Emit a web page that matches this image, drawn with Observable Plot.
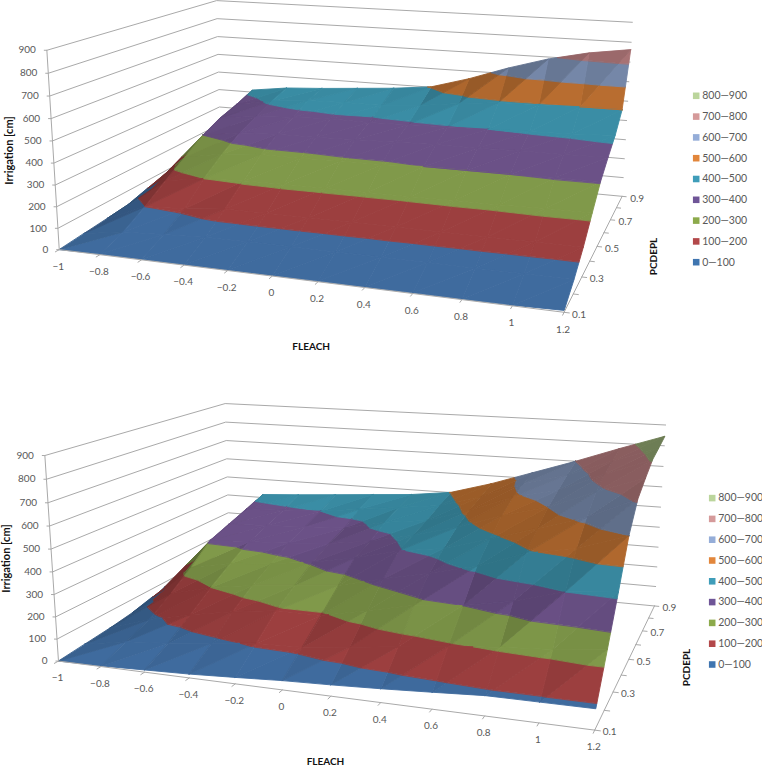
<!DOCTYPE html>
<html><head><meta charset="utf-8">
<script src="https://cdn.jsdelivr.net/npm/d3@7"></script>
<script src="https://cdn.jsdelivr.net/npm/@observablehq/plot@0.6"></script>
<style>html,body{margin:0;padding:0;background:#fff}svg{display:block}</style>
</head><body><div id="c"></div>
<script>
const fleach=[-1,-0.8,-0.6,-0.4,-0.2,0,0.2,0.4,0.6,0.8,1,1.2];
const pcdepl=[0.1,0.2,0.3,0.4,0.5,0.6,0.7,0.8,0.9];
const pcdeplLabels=[0.1,0.3,0.5,0.7,0.9];
const irrigationTicks=[0,100,200,300,400,500,600,700,800,900];
const bandNames=["0—100","100—200","200—300","300—400","400—500","500—600","600—700","700—800","800—900"];
const surfaceColors=["#3f6b9e","#9c3f3f","#80994a","#6b5187","#3a8da5","#b86d30","#7587a8","#a87274","#869a68"];
const legendColors=["#3f75b0","#b3484a","#8caa4b","#6f5597","#3f9db9","#e2863b","#95add8","#d59a9a","#bbd59c"];
// Irrigation [cm]: one row per FLEACH value, one column per PCDEPL value
const irrigationTop=[
[0,10,20,32,45,60,75,90,105],
[3,40,100,170,235,300,345,375,412],
[3,50,110,200,270,328,368,408,438],
[3,60,130,208,285,338,380,425,450],
[3,62,132,212,285,340,388,430,465],
[3,62,132,212,290,345,385,430,480],
[3,62,132,212,290,350,390,445,502],
[3,62,132,212,300,355,395,470,560],
[3,62,132,215,300,355,400,490,630],
[3,62,132,215,300,360,405,495,690],
[3,62,132,220,305,360,410,500,734],
[8,62,132,220,305,365,420,500,763]];
const irrigationBottom=[
[0,10,20,35,50,65,80,95,110],
[3,45,85,150,225,310,345,380,417],
[10,62,130,200,262,320,355,390,430],
[17,85,165,230,280,330,365,400,445],
[28,108,192,250,305,345,375,425,460],
[40,115,192,270,345,375,420,450,475],
[48,138,235,320,395,420,445,475,501],
[58,165,280,365,425,475,510,535,560],
[70,190,300,415,485,545,590,615,630],
[83,210,340,490,550,600,635,670,700],
[84,225,400,530,615,685,725,750,775],
[85,250,420,600,710,760,805,825,846]];

// camera calibration: where the box corners fall on the page, solved into a projection
const cameraTop={pts:[[-1,.1,0,59,249],[-1,.1,900,46,50],[-1,.9,0,220,158],[-1,.9,900,216.5,0],[1.2,.9,0,621.7,196],[1.2,.9,900,631.7,21.7],[1.2,.1,0,563.7,311.7]]};
const cameraBottom={pts:[[-1,.1,0,57.3,277],[-1,.1,900,45,72.3],[-1,.9,0,230,182.7],[-1,.9,900,224,19.7],[1.2,.9,0,653.7,222],[1.2,.9,900,665.3,41.7],[1.2,.1,0,594.3,347]]};
const layoutTop={grid:irrigationTop,cam:cameraTop,legendX:695.7,legendY0:261.7,legendStep:20.8,fleachTitle:[310.7,346.7],irrTitle:[9,150],pcTitle:[653,256]};
const layoutBottom={grid:irrigationBottom,cam:cameraBottom,legendX:711.7,legendY0:281,legendStep:20.8,fleachTitle:[325,378.7],irrTitle:[6,175],pcTitle:[686,284]};

function solveProjection(pts){
  const nu=f=>(f+1)/2.2,nv=p=>(p-.1)/.8,nw=z=>z/900;
  const A=[],b=[];
  for(const [f,p,z,X,Y] of pts){
    const u=nu(f),v=nv(p),w=nw(z),x=X/1000,y=Y/1000;
    A.push([u,v,w,1,0,0,0,0,-x*u,-x*v,-x*w]);b.push(x);
    A.push([0,0,0,0,u,v,w,1,-y*u,-y*v,-y*w]);b.push(y);
  }
  const n=11,M=[];
  for(let i=0;i<n;i++){M[i]=[];for(let j=0;j<n;j++)M[i][j]=d3.sum(A,r=>r[i]*r[j])+(i===j?1e-10:0);M[i][n]=d3.sum(A,(r,k)=>r[i]*b[k]);}
  for(let i=0;i<n;i++){
    let m=i;for(let k=i+1;k<n;k++)if(Math.abs(M[k][i])>Math.abs(M[m][i]))m=k;
    [M[i],M[m]]=[M[m],M[i]];
    for(let k=0;k<n;k++){if(k===i)continue;const c=M[k][i]/M[i][i];for(let j=i;j<=n;j++)M[k][j]-=c*M[i][j];}
  }
  const h=M.map((r,i)=>r[n]/r[i]);
  return (f,p,z)=>{const u=nu(f),v=nv(p),w=nw(z),d=h[8]*u+h[9]*v+h[10]*w+1;
    return [1000*(h[0]*u+h[1]*v+h[2]*w+h[3])/d,1000*(h[4]*u+h[5]*v+h[6]*w+h[7])/d];};
}
function clip(poly,lim,keepAbove){
  const out=[],inside=q=>keepAbove?q[2]>=lim:q[2]<=lim;
  poly.forEach((a,i)=>{const b=poly[(i+1)%poly.length],ia=inside(a),ib=inside(b);
    if(ia)out.push(a);
    if(ia!==ib){const t=(lim-a[2])/(b[2]-a[2]);out.push([a[0]+t*(b[0]-a[0]),a[1]+t*(b[1]-a[1]),lim]);}
  });
  return out;
}
function shade(col,s){const c=d3.rgb(col);return d3.rgb(Math.min(255,c.r*s),Math.min(255,c.g*s),Math.min(255,c.b*s)).formatHex();}
function surface(grid,proj){
  const out=[];let id=0;
  const cells=[];
  for(let j=pcdepl.length-2;j>=0;j--){
    const order=d3.range(fleach.length-1).sort((a,b)=>Math.abs(fleach[b]+.1)-Math.abs(fleach[a]+.1));
    for(const i of order)cells.push([i,j]);
  }
  for(const [i,j] of cells){
    const P=(a,b)=>[fleach[a],pcdepl[b],grid[a][b]];
    const tris=[[P(i,j),P(i+1,j),P(i+1,j+1)],[P(i,j),P(i+1,j+1),P(i,j+1)]];
    tris.forEach((t,k)=>{
      const dzdf=k===0?grid[i+1][j]-grid[i][j]:grid[i+1][j+1]-grid[i][j+1];
      const s=1-.28*(1-Math.exp(-Math.max(0,dzdf-10)/60));
      surfaceColors.forEach((col,b)=>{
        let q=clip(t,b*100,true);if(q.length<3)return;
        q=clip(q,(b+1)*100,false);if(q.length<3)return;
        const c=shade(col,s);id++;
        for(const v of q){const [x,y]=proj(v[0],v[1],v[2]);out.push({id,x,y,c});}
      });
    });
  }
  return out;
}
const lab=v=>(v<0?"\u2212":"")+Math.abs(v);
function chart(L){
  const proj=solveProjection(L.cam.pts);
  const gridLines=[];let gid=0;
  for(const z of irrigationTicks){gid++;
    for(const [f,p] of [[-1,.1],[-1,.9],[1.2,.9]]){const [x,y]=proj(f,p,z);gridLines.push({id:gid,x,y});}
  }
  const axisLines=[];let aid=0;
  const seg=(a,b)=>{aid++;for(const q of [a,b]){const [x,y]=proj(...q);axisLines.push({id:aid,x,y});}};
  seg([-1,.1,0],[-1,.1,900]);
  seg([-1,.1,0],[1.2,.1,0]);
  seg([1.2,.1,0],[1.2,.9,0]);
  for(const f of fleach)seg([f,.1,0],[f,.085,0]);
  for(const p of pcdepl)seg([1.2,p,0],[1.22,p,0]);
  const zT=irrigationTicks.map(z=>{const [x,y]=proj(-1,.1,z);return {z,x,y};});
  const fT=fleach.map(f=>{const [x,y]=proj(f,.1,0);return {f,x,y};});
  const pT=pcdeplLabels.map(p=>{const [x,y]=proj(1.2,p,0);return {p,x,y};});
  const leg=bandNames.map((n,i)=>({n,c:legendColors[i],y:L.legendY0-i*L.legendStep}));
  const font={fontFamily:"Lato",fontSize:10,fill:"#595959"};
  const title={fontFamily:"Lato",fontSize:10,fontWeight:"bold",fill:"#111"};
  return Plot.plot({width:762,height:383,margin:0,
    style:{background:"#fff"},
    x:{domain:[0,762],range:[0,762],axis:null},
    y:{domain:[0,383],range:[0,383],axis:null},
    color:{type:"identity"},
    marks:[
      Plot.line(gridLines,{x:"x",y:"y",z:"id",stroke:"#a9a9a9",strokeWidth:1}),
      Plot.line(surface(L.grid,proj),{x:"x",y:"y",z:"id",fill:"c",stroke:"c",strokeWidth:.9,curve:"linear-closed"}),
      Plot.line(axisLines,{x:"x",y:"y",z:"id",stroke:"#a9a9a9",strokeWidth:1}),
      Plot.link(zT,{x1:"x",y1:"y",x2:d=>d.x-3,y2:"y",stroke:"#a9a9a9"}),
      Plot.text(zT,{x:"x",y:"y",text:d=>String(d.z),textAnchor:"end",dx:-11,...font}),
      Plot.text(fT,{x:"x",y:"y",text:d=>lab(d.f),dy:17,dx:-1,...font}),
      Plot.text(pT,{x:"x",y:"y",text:d=>String(d.p),textAnchor:"start",dx:8,dy:2,...font}),
      Plot.text(["FLEACH"],{x:()=>L.fleachTitle[0],y:()=>L.fleachTitle[1],text:d=>d,...title}),
      Plot.text(["Irrigation [cm]"],{x:()=>L.irrTitle[0],y:()=>L.irrTitle[1],text:d=>d,rotate:-90,...title,fontSize:11}),
      Plot.text(["PCDEPL"],{x:()=>L.pcTitle[0],y:()=>L.pcTitle[1],text:d=>d,rotate:-90,...title}),
      Plot.dot(leg,{x:()=>L.legendX,y:"y",fill:"c",symbol:"square",r:3.7}),
      Plot.text(leg,{x:()=>L.legendX+6,y:"y",text:"n",textAnchor:"start",fontFamily:"Lato",fontSize:10.5,fill:"#595959"})
    ]});
}
const host=document.getElementById("c");
host.append(chart(layoutTop),chart(layoutBottom));
</script></body></html>
